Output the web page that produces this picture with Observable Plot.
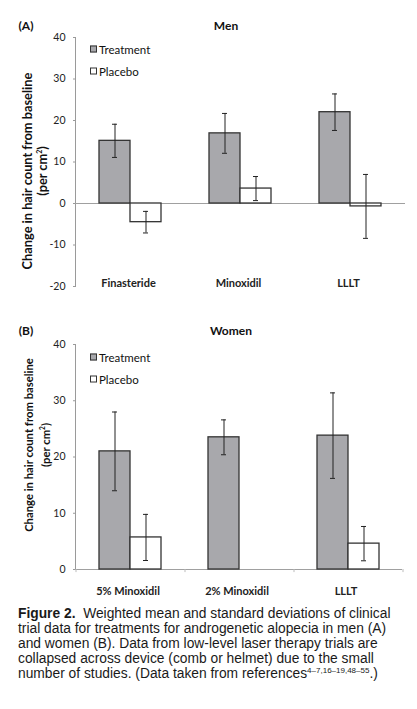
<!DOCTYPE html>
<html>
<head>
<meta charset="utf-8">
<script src="https://cdn.jsdelivr.net/npm/d3@7"></script>
<script src="https://cdn.jsdelivr.net/npm/@observablehq/plot@0.6"></script>
<style>
  html, body { margin: 0; padding: 0; background: #fff; }
  #root { position: relative; width: 417px; height: 709px; overflow: hidden; font-family: Lato, "Open Sans", sans-serif; color: #111; }
  .panel { position: absolute; left: 0; width: 417px; }
  .panel svg { color: #9a9a9a; }
  .panel svg text { fill: #222; }
  .abs { position: absolute; white-space: nowrap; }
  .rot { transform: translate(-50%, -50%) rotate(-90deg); font-weight: bold; }
  .ttl { font-weight: bold; font-size: 12px; transform: translate(-50%, -50%); }
  .leg { font-size: 11.5px; transform: translateY(-50%); display: flex; align-items: center; }
  .sw { display: inline-block; width: 5px; height: 5px; border: 1px solid #333; margin-right: 2px; }
  #caption { position: absolute; left: 18px; top: 606px; font-family: "Liberation Sans", Arial, sans-serif; font-size: 13.8px; line-height: 15px; color: #1a1a1a; white-space: nowrap; }
  #caption sup { font-size: 8px; vertical-align: 5px; line-height: 0; }
</style>
</head>
<body>
<div id="root">
  <div class="panel" id="pA" style="top:0"></div>
  <div class="panel" id="pB" style="top:300px"></div>
  <div class="abs ttl" style="left:26px; top:25px">(A)</div>
  <div class="abs ttl" style="left:226px; top:25px">Men</div>
  <div class="abs ttl" style="left:26px; top:330px">(B)</div>
  <div class="abs ttl" style="left:231px; top:330px">Women</div>
  <div class="abs rot" style="left:27px; top:171px; font-size:12.8px">Change in hair count from baseline</div>
  <div class="abs rot" style="left:42px; top:171px; font-size:12.8px">(per cm<sup style="font-size:7px">2</sup>)</div>
  <div class="abs rot" style="left:28px; top:445px; font-size:11.3px">Change in hair count from baseline</div>
  <div class="abs rot" style="left:45px; top:445px; font-size:11.3px">(per cm<sup style="font-size:6.5px">2</sup>)</div>
  <div class="abs leg" style="left:90px; top:49px"><span class="sw" style="background:#a8a8ac"></span>Treatment</div>
  <div class="abs leg" style="left:90px; top:71px"><span class="sw" style="background:#fff"></span>Placebo</div>
  <div class="abs leg" style="left:90px; top:357px"><span class="sw" style="background:#a8a8ac"></span>Treatment</div>
  <div class="abs leg" style="left:90px; top:379px"><span class="sw" style="background:#fff"></span>Placebo</div>
  <div id="caption"><b>Figure 2.</b>&nbsp; Weighted mean and standard deviations of clinical<br>trial data for treatments for androgenetic alopecia in men (A)<br>and women (B). Data from low-level laser therapy trials are<br>collapsed across device (comb or helmet) due to the small<br>number of studies. (Data taken from references<sup>4–7,16–19,48–55</sup>.)</div>
</div>
<script>
const series = ["Treatment", "Placebo"];
const seriesColors = ["#a8a8ac", "#ffffff"];

// Panel A: Men
const menCategories = ["Finasteride", "Minoxidil", "LLLT"];
const menTreatment = [15.1, 16.9, 22.0];
const menTreatmentSD = [4.0, 4.8, 4.4];
const menPlacebo = [-4.5, 3.6, -0.7];
const menPlaceboSD = [2.6, 2.9, 7.7];
const menTicks = [-20, -10, 0, 10, 20, 30, 40];

// Panel B: Women
const womenCategories = ["5% Minoxidil", "2% Minoxidil", "LLLT"];
const womenTreatment = [21.0, 23.5, 23.8];
const womenTreatmentSD = [7.0, 3.1, 7.6];
const womenPlacebo = [5.7, null, 4.6];
const womenPlaceboSD = [4.1, null, 3.05];
const womenTicks = [0, 10, 20, 30, 40];

function rows(cats, t, tsd, p, psd) {
  const out = [];
  cats.forEach((c, i) => {
    out.push({cat: c, series: "Treatment", value: t[i], sd: tsd[i]});
    if (p[i] != null) out.push({cat: c, series: "Placebo", value: p[i], sd: psd[i]});
  });
  return out;
}

function panel(cats, data, ticks, opts) {
  const boundaryMarks = opts.boundaryTicks ? [
    Plot.ruleX(cats, {fx: d => d, x: () => "Treatment", y1: 0, y2: -0.55, dx: -39, stroke: "#bbb"}),
    Plot.ruleX([cats[cats.length - 1]], {fx: d => d, x: () => "Placebo", y1: 0, y2: -0.55, dx: 39, stroke: "#bbb"})
  ] : [];
  return Plot.plot({
    width: 417,
    height: 300,
    marginLeft: 74,
    marginRight: opts.marginRight,
    marginTop: opts.marginTop,
    marginBottom: opts.marginBottom,
    style: {fontFamily: "Lato, 'Open Sans', sans-serif", fontSize: "10.5px", background: "white"},
    fx: {domain: cats, padding: 0, axis: null},
    x: {domain: series, paddingInner: 0, paddingOuter: 0.72, axis: null},
    y: {domain: [ticks[0], ticks[ticks.length - 1]], ticks: ticks, tickSize: 2, tickPadding: 8, line: true, label: null, tickFormat: d => String(d)},
    color: {domain: series, range: seriesColors},
    marks: [
      Plot.ruleY([0], {stroke: "#a0a0a0", strokeWidth: 1}),
      ...boundaryMarks,
      Plot.barY(data, {fx: "cat", x: "series", y: "value", fill: "series", stroke: "#333", strokeWidth: 1.3}),
      Plot.ruleX(data, {fx: "cat", x: "series", y1: d => d.value - d.sd, y2: d => d.value + d.sd, stroke: "#222", strokeWidth: 1}),
      Plot.tickY(data, {fx: "cat", x: "series", y: d => d.value - d.sd, stroke: "#222", insetLeft: 13, insetRight: 13}),
      Plot.tickY(data, {fx: "cat", x: "series", y: d => d.value + d.sd, stroke: "#222", insetLeft: 13, insetRight: 13}),
      Plot.text(cats, {fx: d => d, text: d => d, frameAnchor: "bottom", lineAnchor: "middle", dx: -2, dy: opts.labelDy, fontWeight: "bold", fontSize: 11})
    ]
  });
}

document.getElementById("pA").append(
  panel(menCategories, rows(menCategories, menTreatment, menTreatmentSD, menPlacebo, menPlaceboSD), menTicks,
    {marginTop: 37, marginBottom: 14, marginRight: 12, labelDy: -3, boundaryTicks: false})
);
document.getElementById("pB").append(
  panel(womenCategories, rows(womenCategories, womenTreatment, womenTreatmentSD, womenPlacebo, womenPlaceboSD), womenTicks,
    {marginTop: 44, marginBottom: 31, marginRight: 15, labelDy: 22, boundaryTicks: true})
);
</script>
</body>
</html>
